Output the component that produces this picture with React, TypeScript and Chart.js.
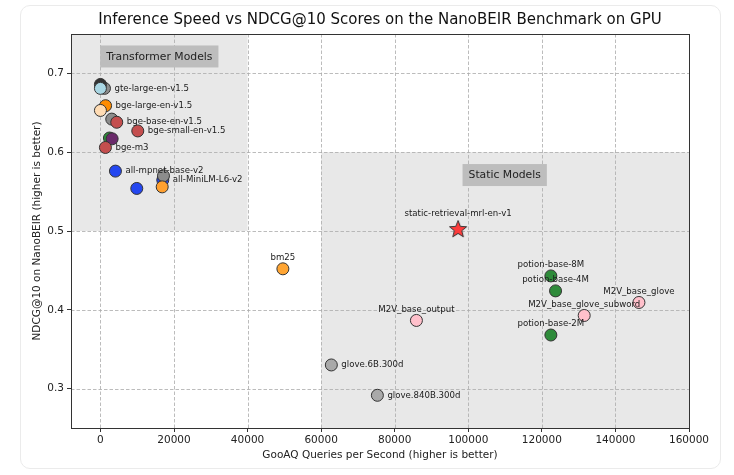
import React, { useEffect, useRef } from "react";
import { Chart, registerables } from "chart.js";

Chart.register(...registerables);

// ---- data ----
const pointNames = [
  "gte-large-en-v1.5", "", "",
  "bge-large-en-v1.5", "",
  "", "bge-base-en-v1.5",
  "bge-small-en-v1.5",
  "", "",
  "bge-m3",
  "all-mpnet-base-v2", "",
  "all-MiniLM-L6-v2", "", "",
  "bm25",
  "glove.6B.300d", "glove.840B.300d",
  "M2V_base_output",
  "potion-base-8M", "potion-base-4M", "potion-base-2M",
  "M2V_base_glove_subword", "M2V_base_glove",
];
const queriesPerSecond = [
  1100, 0, 0,
  1400, 0,
  3075, 4435,
  10150,
  2450, 3180,
  1360,
  4080, 9880,
  16950, 17140, 16790,
  49600,
  62770, 75290,
  85900,
  122450, 123720, 122450,
  131510, 146390,
];
const ndcgScores = [
  0.681, 0.686, 0.681,
  0.659, 0.653,
  0.642, 0.638,
  0.627,
  0.618, 0.617,
  0.606,
  0.576, 0.554,
  0.5646, 0.570, 0.556,
  0.452,
  0.330, 0.2915,
  0.3865,
  0.443, 0.424, 0.368,
  0.3928, 0.4093,
];
const pointColors = [
  "#8c8c8c", "#333333", "#a9d6e3",
  "#ff8c00", "#ffdcb4",
  "#8c8c8c", "#c44e4e",
  "#c44e4e",
  "#2e8b3a", "#6a2a6a",
  "#c44e4e",
  "#2447f0", "#2447f0",
  "#2447f0", "#8c8c8c", "#ffa030",
  "#ffa533",
  "#a9a9a9", "#a9a9a9",
  "#ffc0cb",
  "#2e8b3a", "#2e8b3a", "#2e8b3a",
  "#ffc0cb", "#ffc0cb",
];
const labelPlacement = [
  "right", "", "",
  "right", "",
  "", "right",
  "right",
  "", "",
  "right",
  "right", "",
  "right", "", "",
  "top",
  "right", "right",
  "top",
  "top", "top", "top",
  "top", "top",
];

const starNames = ["static-retrieval-mrl-en-v1"];
const starQps = [97230];
const starNdcg = [0.5025];
const starColors = ["#ff3b3b"];

const xTicks = [0, 20000, 40000, 60000, 80000, 100000, 120000, 140000, 160000];
const yTicks = [0.3, 0.4, 0.5, 0.6, 0.7];
const xRange = [-8000, 160000];
const yRange = [0.25, 0.75];

const regionNames = ["Transformer Models", "Static Models"];
const regionXFrom = [-8000, 60000];
const regionXTo = [40000, 160000];
const regionYFrom = [0.5, 0.25];
const regionYTo = [0.75, 0.6];
const regionLabelX = [16000, 109900];
const regionLabelY = [0.7215, 0.571];

const titleText = "Inference Speed vs NDCG@10 Scores on the NanoBEIR Benchmark on GPU";
const xTitle = "GooAQ Queries per Second (higher is better)";
const yTitle = "NDCG@10 on NanoBEIR (higher is better)";

const FONT = "'DejaVu Sans', 'Liberation Sans', sans-serif";

function makeStar(color: string): HTMLCanvasElement {
  const c = document.createElement("canvas");
  const s = 22;
  c.width = s;
  c.height = s;
  const ctx = c.getContext("2d")!;
  const cx = s / 2, cy = s / 2 + 0.5, R = 9, r = 3.9;
  ctx.beginPath();
  for (let i = 0; i < 10; i++) {
    const ang = -Math.PI / 2 + (i * Math.PI) / 5;
    const rad = i % 2 === 0 ? R : r;
    const px = cx + rad * Math.cos(ang);
    const py = cy + rad * Math.sin(ang);
    if (i === 0) ctx.moveTo(px, py);
    else ctx.lineTo(px, py);
  }
  ctx.closePath();
  ctx.fillStyle = color;
  ctx.fill();
  ctx.lineWidth = 1;
  ctx.strokeStyle = "#333";
  ctx.stroke();
  return c;
}

export default function App() {
  const ref = useRef<HTMLCanvasElement | null>(null);

  useEffect(() => {
    document.body.style.margin = "0";
    const canvas = ref.current;
    if (!canvas) return;

    const starImgs = starColors.map((c) => makeStar(c));

    const decor = {
      id: "decor",
      beforeDatasetsDraw(chart: any) {
        const { ctx, chartArea } = chart;
        const xs = chart.scales.x;
        const ys = chart.scales.y;
        ctx.save();
        ctx.fillStyle = "#e8e8e8";
        for (let i = 0; i < regionNames.length; i++) {
          const x1 = Math.max(chartArea.left, xs.getPixelForValue(regionXFrom[i]));
          const x2 = Math.min(chartArea.right, xs.getPixelForValue(regionXTo[i]));
          const y1 = Math.max(chartArea.top, ys.getPixelForValue(regionYTo[i]));
          const y2 = Math.min(chartArea.bottom, ys.getPixelForValue(regionYFrom[i]));
          ctx.fillRect(x1, y1, x2 - x1, y2 - y1);
        }
        ctx.strokeStyle = "#ababab";
        ctx.lineWidth = 0.8;
        ctx.setLineDash([3.5, 2]);
        for (const v of xTicks) {
          const p = Math.round(xs.getPixelForValue(v)) + 0.5;
          ctx.beginPath();
          ctx.moveTo(p, chartArea.top);
          ctx.lineTo(p, chartArea.bottom);
          ctx.stroke();
        }
        for (const v of yTicks) {
          const p = Math.round(ys.getPixelForValue(v)) + 0.5;
          ctx.beginPath();
          ctx.moveTo(chartArea.left, p);
          ctx.lineTo(chartArea.right, p);
          ctx.stroke();
        }
        ctx.setLineDash([]);
        ctx.strokeStyle = "#333";
        ctx.lineWidth = 1;
        ctx.strokeRect(
          Math.round(chartArea.left) + 0.5,
          Math.round(chartArea.top) + 0.5,
          Math.round(chartArea.right - chartArea.left),
          Math.round(chartArea.bottom - chartArea.top)
        );
        ctx.restore();
      },
      afterDatasetsDraw(chart: any) {
        const { ctx, chartArea } = chart;
        const xs = chart.scales.x;
        const ys = chart.scales.y;
        ctx.save();
        ctx.font = `10.8px ${FONT}`;
        ctx.textAlign = "center";
        ctx.textBaseline = "middle";
        for (let i = 0; i < regionNames.length; i++) {
          const px = xs.getPixelForValue(regionLabelX[i]);
          const py = ys.getPixelForValue(regionLabelY[i]);
          const w = ctx.measureText(regionNames[i]).width + 12;
          const h = 22;
          ctx.fillStyle = "#bdbdbd";
          ctx.fillRect(px - w / 2, py - h / 2, w, h);
          ctx.fillStyle = "#222";
          ctx.fillText(regionNames[i], px, py + 0.5);
        }
        ctx.font = `8.6px ${FONT}`;
        ctx.fillStyle = "#1a1a1a";
        for (let i = 0; i < pointNames.length; i++) {
          if (!pointNames[i] || !labelPlacement[i]) continue;
          const px = xs.getPixelForValue(queriesPerSecond[i]);
          const py = ys.getPixelForValue(ndcgScores[i]);
          if (labelPlacement[i] === "right") {
            ctx.textAlign = "left";
            ctx.textBaseline = "middle";
            ctx.fillText(pointNames[i], px + 10, py);
          } else {
            ctx.textAlign = "center";
            ctx.textBaseline = "middle";
            ctx.fillText(pointNames[i], px, py - 11);
          }
        }
        for (let i = 0; i < starNames.length; i++) {
          const px = xs.getPixelForValue(starQps[i]);
          const py = ys.getPixelForValue(starNdcg[i]);
          ctx.textAlign = "center";
          ctx.textBaseline = "middle";
          ctx.fillText(starNames[i], px, py - 15);
        }
        ctx.font = `15px ${FONT}`;
        ctx.fillStyle = "#111";
        ctx.textAlign = "center";
        ctx.textBaseline = "middle";
        const cx = (chartArea.left + chartArea.right) / 2;
        ctx.fillText(titleText, cx, 20);
        ctx.font = `10.5px ${FONT}`;
        ctx.fillStyle = "#222";
        ctx.fillText(xTitle, cx, 455);
        ctx.save();
        ctx.translate(37, (chartArea.top + chartArea.bottom) / 2);
        ctx.rotate(-Math.PI / 2);
        ctx.fillText(yTitle, 0, 0);
        ctx.restore();
        ctx.restore();
      },
    };

    const chart = new Chart(canvas, {
      type: "scatter",
      data: {
        datasets: [
          {
            label: "models",
            data: queriesPerSecond.map((x, i) => ({ x, y: ndcgScores[i] })),
            pointBackgroundColor: pointColors,
            pointBorderColor: "#333",
            pointBorderWidth: 1,
            pointRadius: 6,
            pointHoverRadius: 6,
          },
          {
            label: "static",
            data: starQps.map((x, i) => ({ x, y: starNdcg[i] })),
            pointStyle: starImgs as any,
            pointRadius: 9,
          },
        ],
      },
      options: {
        animation: false,
        responsive: false,
        events: [],
        layout: { padding: { left: 20, right: 45, top: 34, bottom: 0 } },
        plugins: {
          legend: { display: false },
          tooltip: { enabled: false },
          title: { display: false },
        },
        scales: {
          x: {
            type: "linear",
            min: xRange[0],
            max: xRange[1],
            afterBuildTicks: (s: any) => {
              s.ticks = xTicks.map((v) => ({ value: v }));
            },
            afterFit: (s: any) => {
              s.height = 47;
            },
            grid: {
              display: true,
              drawOnChartArea: false,
              drawTicks: true,
              tickLength: 4,
              tickColor: "#333",
              color: "#333",
            },
            border: { display: false },
            ticks: {
              autoSkip: false,
              maxRotation: 0,
              padding: 2,
              color: "#222",
              font: { family: FONT, size: 10.5 },
              callback: (v: any) => String(v),
            },
          },
          y: {
            type: "linear",
            min: yRange[0],
            max: yRange[1],
            afterBuildTicks: (s: any) => {
              s.ticks = yTicks.map((v) => ({ value: v }));
            },
            afterFit: (s: any) => {
              s.width = 51;
            },
            grid: {
              display: true,
              drawOnChartArea: false,
              drawTicks: true,
              tickLength: 4,
              tickColor: "#333",
              color: "#333",
            },
            border: { display: false },
            ticks: {
              autoSkip: false,
              padding: 3,
              color: "#222",
              font: { family: FONT, size: 10.5 },
              callback: (v: any) => Number(v).toFixed(1),
            },
          },
        },
      },
      plugins: [decor],
    });

    return () => {
      chart.destroy();
    };
  }, []);

  return (
    <div style={{ position: "fixed", left: 0, top: 0, width: 734, height: 475, background: "#fff" }}>
      <div
        style={{
          position: "absolute",
          left: 20,
          top: 5,
          width: 701,
          height: 464,
          border: "1px solid #ebebeb",
          borderRadius: 10,
          boxSizing: "border-box",
        }}
      />
      <canvas ref={ref} width={734} height={475} style={{ position: "absolute", left: 0, top: 0, width: 734, height: 475 }} />
    </div>
  );
}
